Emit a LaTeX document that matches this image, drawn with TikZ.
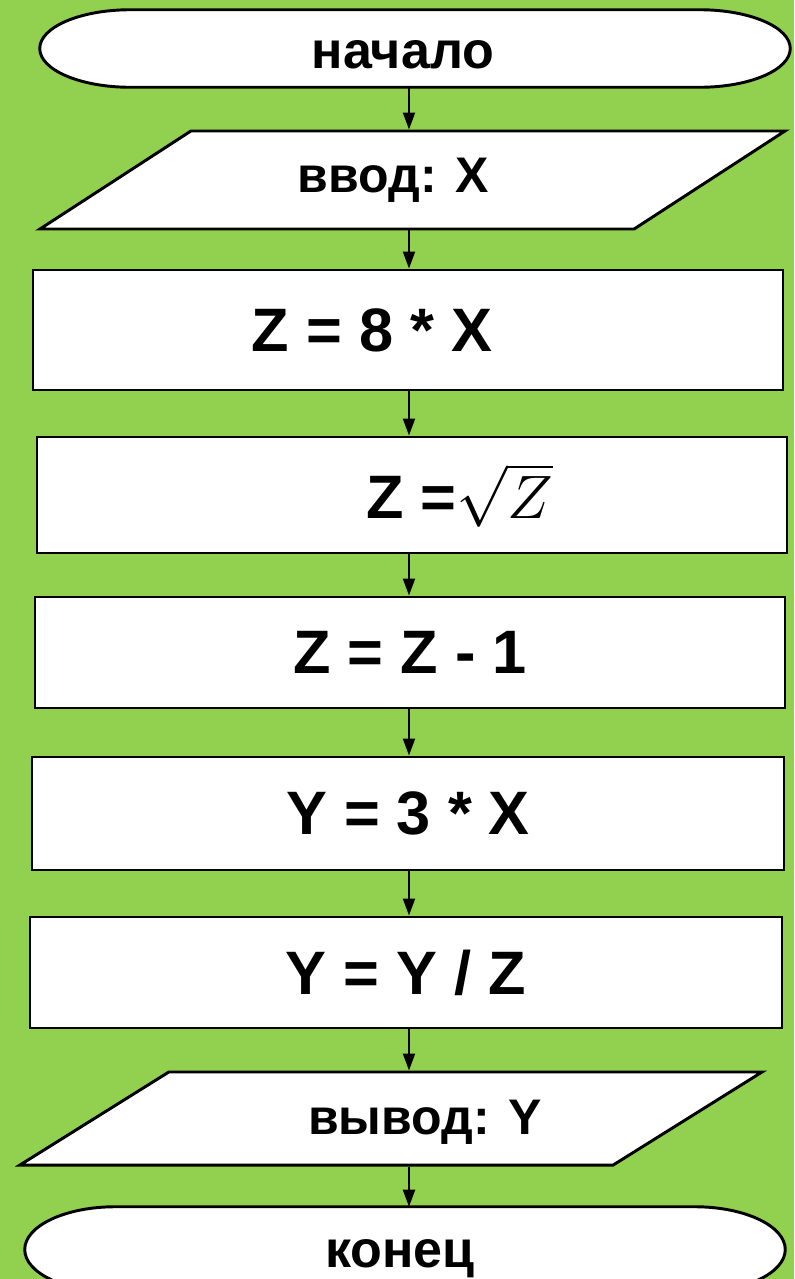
\documentclass[tikz,border=0pt]{standalone}
\usepackage{fix-cm}
\usepackage{fontspec}
\setmainfont{Liberation Sans}
\usetikzlibrary{arrows.meta,shapes.geometric,calc,backgrounds}

\definecolor{leaf}{RGB}{146,208,80}

% oval ends for start / end
\newcommand{\termoutline}[1]{%
  \draw[frame, fill=white] let \p1=(#1.north), \p2=(#1.south), \n1={(\y1-\y2)/2} in
    ([xshift=68pt]#1.north west) -- ([xshift=-68pt]#1.north east)
    arc[start angle=90, end angle=-90, x radius=68pt, y radius=\n1]
    -- ([xshift=68pt]#1.south west)
    arc[start angle=270, end angle=90, x radius=68pt, y radius=\n1] -- cycle;}

\begin{document}
\begin{tikzpicture}[x=0.75pt, y=-0.75pt,
  frame/.style={draw=black, line width=2.2pt},
  termfont/.style={font=\fontsize{39}{44}\selectfont\bfseries},
  iofont/.style={font=\fontsize{37.5}{44}\selectfont\bfseries},
  procfont/.style={font=\fontsize{46}{50}\selectfont\bfseries},
  startend/.style={rectangle, minimum width=562.5pt},
  io/.style={trapezium, trapezium left angle=33, trapezium right angle=147, frame, fill=white, inner xsep=166.2pt, inner ysep=36.75pt},
  proc/.style={rectangle, frame, fill=white, minimum width=562.5pt, procfont},
  arr/.style={-{Triangle[length=12.75pt, width=9pt]}, line width=1.5pt}
]
\useasboundingbox (0,0) rectangle (794,1279);

\node[startend, minimum height=57.75pt, label={[termfont, xshift=-9pt, yshift=-4.5pt]center:{начало}}] (start) at (415,48.5) {};
\node[io, label={[iofont, xshift=-14.5pt]center:{ввод: X}}] (in) at (412.5,180) {};

\node[proc, minimum height=90pt, label={[procfont, xshift=-27pt]center:{Z = 8 * X}}] (r1) at (408,330) {};
\node[proc, minimum height=87pt, label={[procfont, xshift=36pt]center:{Z =$\sqrt{Z}$}}] (r2) at (412,495) {};
\node[proc, minimum height=83.25pt] (r3) at (410,652.5) {Z = Z - 1};
\node[proc, minimum height=84.75pt, minimum width=564pt] (r4) at (408,813.5) {Y = 3 * X};
\node[proc, minimum height=83.25pt, minimum width=564pt] (r5) at (406,972.5) {Y = Y / Z};

\node[io, trapezium left angle=32, trapezium right angle=148, inner xsep=166.6pt, inner ysep=34.9pt,
  label={[iofont, xshift=25.5pt, yshift=-3pt]center:{вывод: Y}}] (out) at (391,1118.5) {};
\node[startend, minimum width=570pt, minimum height=63.75pt, label={[termfont, xshift=-3.75pt, yshift=-6.75pt]center:{конец}}] (end) at (405,1249.5) {};

\begin{scope}[on background layer]
  \fill[leaf] (0,0) rectangle (794,1279);
  \termoutline{start}
  \termoutline{end}
\end{scope}

\coordinate (ax) at (409,0);
\foreach \a/\b in {start/in, in/r1, r1/r2, r2/r3, r3/r4, r4/r5, r5/out, out/end}
  \draw[arr] (\a.south -| ax) -- (\b.north -| ax);

\end{tikzpicture}
\end{document}
